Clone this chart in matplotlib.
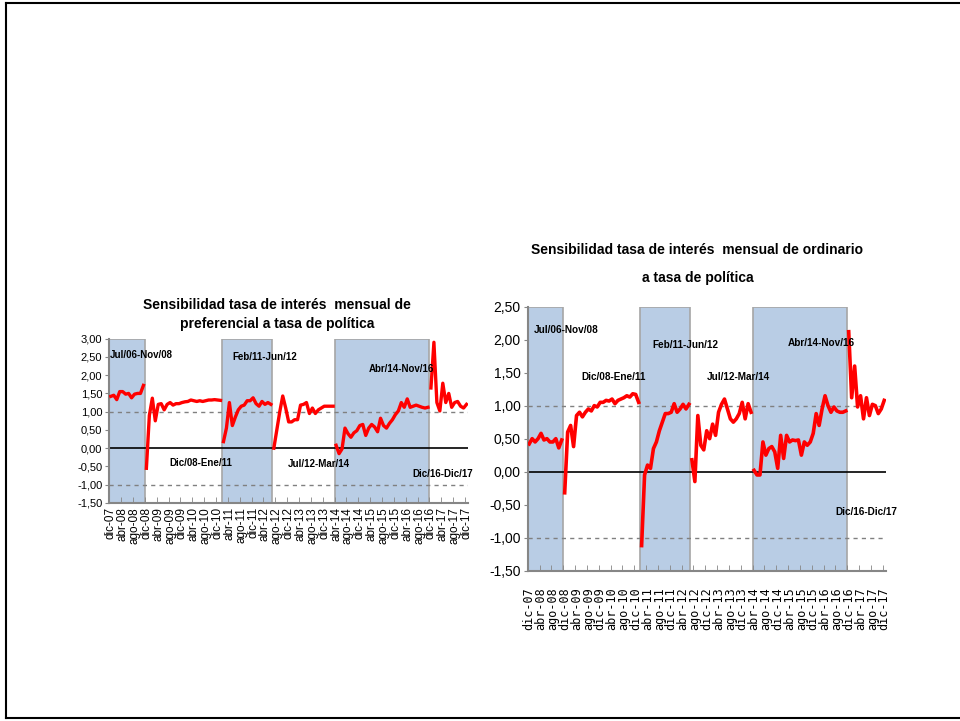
import numpy as np
import matplotlib.pyplot as plt
from matplotlib.lines import Line2D

# etiquetas del eje x (cada 4 meses, dic-07 a dic-17)
tick_labels = ['dic-07', 'abr-08', 'ago-08', 'dic-08', 'abr-09', 'ago-09', 'dic-09',
               'abr-10', 'ago-10', 'dic-10', 'abr-11', 'ago-11', 'dic-11', 'abr-12',
               'ago-12', 'dic-12', 'abr-13', 'ago-13', 'dic-13', 'abr-14', 'ago-14',
               'dic-14', 'abr-15', 'ago-15', 'dic-15', 'abr-16', 'ago-16', 'dic-16',
               'abr-17', 'ago-17', 'dic-17']

# tramos (regimenes) y si van sombreados
tramos = ['Jul/06-Nov/08', 'Dic/08-Ene/11', 'Feb/11-Jun/12',
          'Jul/12-Mar/14', 'Abr/14-Nov/16', 'Dic/16-Dic/17']
sombreado = [True, False, True, False, True, False]

# preferencial
pref_1 = [1.42, 1.45, 1.33, 1.55, 1.55, 1.48, 1.50, 1.38, 1.48, 1.50, 1.50, 1.72]
pref_2 = [-0.55, 0.90, 1.37, 0.75, 1.20, 1.22, 1.05, 1.20, 1.25, 1.18, 1.22, 1.22, 1.25,
          1.27, 1.28, 1.32, 1.30, 1.28, 1.30, 1.28, 1.30, 1.32, 1.32, 1.33, 1.32, 1.31]
pref_3 = [0.18, 0.55, 1.25, 0.62, 0.85, 1.05, 1.15, 1.18, 1.30, 1.30, 1.38, 1.22, 1.15,
          1.28, 1.20, 1.25, 1.20]
pref_4 = [0.00, 0.50, 1.00, 1.43, 1.10, 0.72, 0.72, 0.78, 0.78, 1.18, 1.20, 1.25, 0.95,
          1.10, 0.95, 1.05, 1.10, 1.15, 1.15, 1.15, 1.15]
pref_5 = [0.08, -0.15, -0.02, 0.55, 0.40, 0.30, 0.42, 0.48, 0.62, 0.65, 0.35, 0.55, 0.65,
          0.58, 0.45, 0.82, 0.62, 0.55, 0.68, 0.78, 0.92, 1.02, 1.25, 1.12, 1.35, 1.12,
          1.15, 1.18, 1.15, 1.12, 1.10, 1.12]
pref_6 = [1.65, 2.90, 1.25, 1.02, 1.78, 1.25, 1.50, 1.12, 1.25, 1.28, 1.15, 1.10, 1.20]

# ordinario
ord_1 = [0.42, 0.50, 0.45, 0.50, 0.58, 0.48, 0.50, 0.45, 0.45, 0.50, 0.36, 0.48]
ord_2 = [-0.32, 0.60, 0.70, 0.38, 0.85, 0.90, 0.83, 0.90, 0.95, 0.92, 1.00, 0.98, 1.05,
         1.05, 1.08, 1.07, 1.10, 1.03, 1.08, 1.10, 1.12, 1.15, 1.13, 1.18, 1.17, 1.05]
ord_3 = [-1.12, -0.05, 0.10, 0.05, 0.35, 0.45, 0.62, 0.75, 0.88, 0.88, 0.90, 1.03, 0.90,
         0.95, 1.02, 0.95, 1.02]
ord_4 = [0.18, -0.15, 0.85, 0.40, 0.33, 0.62, 0.50, 0.72, 0.55, 0.90, 1.02, 1.10, 0.95,
         0.80, 0.75, 0.80, 0.88, 1.05, 0.80, 1.03, 0.90]
ord_5 = [0.02, -0.05, -0.05, 0.45, 0.25, 0.35, 0.38, 0.30, 0.05, 0.55, 0.20, 0.55, 0.45,
         0.48, 0.47, 0.48, 0.25, 0.45, 0.40, 0.45, 0.58, 0.88, 0.70, 0.95, 1.15, 1.00,
         0.90, 0.98, 0.92, 0.90, 0.90, 0.92]
ord_6 = [2.12, 1.12, 1.60, 0.98, 1.15, 0.80, 1.12, 0.85, 1.02, 1.00, 0.88, 0.95, 1.08]

pref_yticks = [3.0, 2.5, 2.0, 1.5, 1.0, 0.5, 0.0, -0.5, -1.0, -1.5]
pref_ylabels = ['3,00', '2,50', '2,00', '1,50', '1,00', '0,50', '0,00', '-0,50', '-1,00', '-1,50']
ord_yticks = [2.5, 2.0, 1.5, 1.0, 0.5, 0.0, -0.5, -1.0, -1.5]
ord_ylabels = ['2,50', '2,00', '1,50', '1,00', '0,50', '0,00', '-0,50', '-1,00', '-1,50']

FONT = 'Liberation Sans'


def dibujar(ax, segs, yticks, ylabels, txt_pos, lw, fs_tick, fs_x, x_font, x_pad, fs_txt):
    start = 0
    for seg, sh in zip(segs, sombreado):
        x = np.arange(start, start + len(seg))
        if sh:
            ax.axvspan(start - 0.5, start + len(seg) - 0.5, facecolor='#B9CDE5',
                       edgecolor='#A6A6A6', lw=1.2, zorder=0)
        ax.plot(x, seg, color='#FF0000', lw=lw, zorder=3, solid_joinstyle='round')
        start += len(seg)
    n = start
    ax.axhline(0, color='black', lw=1.2, zorder=2)
    for yv in (1, -1):
        ax.axhline(yv, color='#808080', lw=1, ls=(0, (3, 3)), zorder=2)
    ax.set_xlim(-0.5, n - 0.5)
    ax.set_ylim(min(yticks), max(yticks))
    ax.set_yticks(yticks)
    ax.set_yticklabels(ylabels, fontsize=fs_tick, family=FONT)
    ax.set_xticks(np.arange(0, n, 4))
    ax.set_xticklabels(tick_labels, rotation=90, fontsize=fs_x, family=x_font)
    ax.set_xticks(np.arange(-0.5, n, 4), minor=True)
    ax.tick_params(axis='x', which='major', length=0, pad=x_pad)
    ax.tick_params(axis='x', which='minor', direction='in', length=4, color='#868686')
    ax.tick_params(axis='y', length=3, color='#868686', pad=2)
    for s in ('top', 'right'):
        ax.spines[s].set_visible(False)
    for s in ('left', 'bottom'):
        ax.spines[s].set_color('#868686')
        ax.spines[s].set_linewidth(1.5)
    for t, (xt, yt) in zip(tramos, txt_pos):
        ax.text(xt, yt, t, fontsize=fs_txt, fontweight='bold', family=FONT,
                ha='left', va='center', zorder=4)


fig = plt.figure(figsize=(9.6, 7.21), dpi=100)

ax1 = fig.add_axes([0.1139, 0.3024, 0.3736, 0.2279])
pos1 = [(-0.5, 2.55), (19.6, -0.40), (41.1, 2.50), (59.7, -0.43), (86.9, 2.17), (101.7, -0.70)]
dibujar(ax1, [pref_1, pref_2, pref_3, pref_4, pref_5, pref_6],
        pref_yticks, pref_ylabels, pos1, 2.4, 8, 8.5, FONT, 3, 7)
ax1.set_title('Sensibilidad tasa de interés  mensual de\npreferencial a tasa de política',
              fontsize=10, fontweight='bold', family=FONT, pad=8, linespacing=1.4, x=0.467)

ax2 = fig.add_axes([0.5497, 0.2085, 0.3729, 0.3662])
pos2 = [(1.6, 2.15), (17.5, 1.44), (41.5, 1.92), (60.1, 1.44), (87.5, 1.95), (103.4, -0.61)]
dibujar(ax2, [ord_1, ord_2, ord_3, ord_4, ord_5, ord_6],
        ord_yticks, ord_ylabels, pos2, 2.6, 10, 8.5, 'DejaVu Sans Mono', 12, 7.2)
ax2.set_title('Sensibilidad tasa de interés  mensual de ordinario\na tasa de política',
              fontsize=10, fontweight='bold', family=FONT, pad=18, linespacing=2.2, x=0.474)

# marco de la diapositiva
for xs, ys in [([0.006, 0.006], [0.004, 0.996]), ([0.006, 1.0], [0.996, 0.996]),
               ([0.006, 1.0], [0.004, 0.004])]:
    fig.add_artist(Line2D(xs, ys, color='black', lw=1.5, transform=fig.transFigure))

fig.savefig('out.png', dpi=100)
